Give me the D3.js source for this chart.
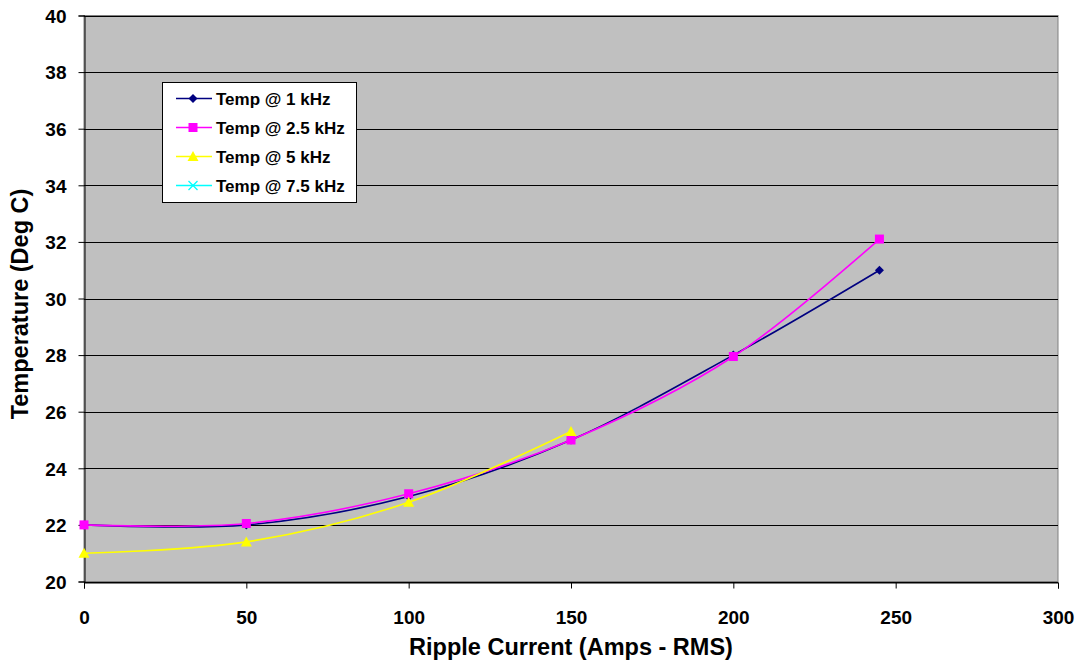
<!DOCTYPE html>
<html><head><meta charset="utf-8">
<script src="https://cdn.jsdelivr.net/npm/d3@7"></script>
<style>
html,body{margin:0;padding:0;background:#fff;}
svg{display:block;font-family:"Liberation Sans",Arial,sans-serif;}
</style></head>
<body><svg id="c" width="1079" height="667"></svg>
<script>
const xVals1k = [0, 50, 100, 150, 200, 245];
const temp1k = [22, 22, 23, 25, 28, 31];
const xVals2k5 = [0, 50, 100, 150, 200, 245];
const temp2k5 = [22, 22.05, 23.1, 25, 27.95, 32.1];
const xVals5k = [0, 50, 100, 150];
const temp5k = [21, 21.4, 22.8, 25.3];
const xVals7k5 = [];
const temp7k5 = [];
const seriesNames = ["Temp @ 1 kHz", "Temp @ 2.5 kHz", "Temp @ 5 kHz", "Temp @ 7.5 kHz"];
const xTicks = [0, 50, 100, 150, 200, 250, 300];
const yTicks = [20, 22, 24, 26, 28, 30, 32, 34, 36, 38, 40];

const series = [
  {name: seriesNames[0], xs: xVals1k, ys: temp1k, color: "#000080", sym: "diamond"},
  {name: seriesNames[1], xs: xVals2k5, ys: temp2k5, color: "#FF00FF", sym: "square"},
  {name: seriesNames[2], xs: xVals5k, ys: temp5k, color: "#FFFF00", sym: "triangle"},
  {name: seriesNames[3], xs: xVals7k5, ys: temp7k5, color: "#00FFFF", sym: "x"}
];

const svg = d3.select("#c");
const L = 84, R = 1058, T = 15.5, B = 581.5;
const x = d3.scaleLinear().domain([0, 300]).range([L, R]);
const y = d3.scaleLinear().domain([20, 40]).range([B, T]);

svg.append("rect").attr("x", L).attr("y", T).attr("width", R - L).attr("height", B - T)
  .attr("fill", "#C0C0C0").attr("stroke", "#808080").attr("stroke-width", 1);

// gridlines
svg.append("g").selectAll("line").data(yTicks).join("line")
  .attr("x1", L).attr("x2", R)
  .attr("y1", d => Math.round(y(d)) + 0.5).attr("y2", d => Math.round(y(d)) + 0.5)
  .attr("stroke", "#000").attr("stroke-width", 1);

// axes
const xAxis = d3.axisBottom(x).tickValues(xTicks).tickSize(6).tickPadding(22);
const yAxis = d3.axisLeft(y).tickValues(yTicks).tickSize(6).tickPadding(12);
const gx = svg.append("g").attr("transform", `translate(0,${Math.round(B)+0.5})`).call(xAxis);
const gy = svg.append("g").attr("transform", `translate(${L+0.5},0)`).call(yAxis);
[gx, gy].forEach(g => {
  g.select(".domain").attr("stroke", "#000");
  g.selectAll(".tick line").attr("stroke", "#000");
  g.selectAll("text").attr("font-size", 19).attr("font-weight", "bold")
    .attr("font-family", "Liberation Sans, Arial, sans-serif").attr("fill", "#000");
});
gy.selectAll(".tick text").attr("dy", "0.36em");

// titles
svg.append("text").attr("x", 571).attr("y", 655).attr("text-anchor", "middle")
  .attr("font-size", 23.5).attr("font-weight", "bold").text("Ripple Current (Amps - RMS)");
svg.append("text").attr("transform", `translate(28,304) rotate(-90)`)
  .attr("text-anchor", "middle").attr("font-size", 23.5).attr("font-weight", "bold")
  .text("Temperature (Deg C)");

const line = d3.line().x(d => x(d[0])).y(d => y(d[1])).curve(d3.curveCatmullRom.alpha(0));

function drawSym(g, sym, color, cx, cy) {
  if (sym === "diamond") {
    g.append("path").attr("d", `M${cx},${cy-4.5}L${cx+4.5},${cy}L${cx},${cy+4.5}L${cx-4.5},${cy}Z`).attr("fill", color);
  } else if (sym === "square") {
    g.append("rect").attr("x", cx - 4.5).attr("y", cy - 4.5).attr("width", 9).attr("height", 9).attr("fill", color);
  } else if (sym === "triangle") {
    g.append("path").attr("d", `M${cx},${cy-5.5}L${cx+5.5},${cy+4.5}L${cx-5.5},${cy+4.5}Z`).attr("fill", color);
  } else {
    g.append("path").attr("d", `M${cx-4.5},${cy-4.5}L${cx+4.5},${cy+4.5}M${cx-4.5},${cy+4.5}L${cx+4.5},${cy-4.5}`)
      .attr("stroke", color).attr("stroke-width", 1.3).attr("fill", "none");
  }
}

const plotG = svg.append("g");
series.forEach(s => {
  const pts = s.xs.map((v, i) => [v, s.ys[i]]);
  if (!pts.length) return;
  plotG.append("path").datum(pts).attr("d", line).attr("fill", "none")
    .attr("stroke", s.color).attr("stroke-width", 1.6);
});
series.forEach(s => {
  s.xs.forEach((v, i) => drawSym(plotG, s.sym, s.color, x(v), y(s.ys[i])));
});

// legend
const lg = svg.append("g");
lg.append("rect").attr("x", 162.5).attr("y", 82.5).attr("width", 194).attr("height", 120)
  .attr("fill", "#fff").attr("stroke", "#000").attr("stroke-width", 1);
series.forEach((s, i) => {
  const cy = 98.5 + i * 29;
  lg.append("line").attr("x1", 176).attr("x2", 212).attr("y1", cy).attr("y2", cy)
    .attr("stroke", s.color).attr("stroke-width", 1.6);
  drawSym(lg, s.sym, s.color, 193, cy);
  lg.append("text").attr("x", 216).attr("y", cy).attr("dy", "0.36em")
    .attr("font-size", 17).attr("font-weight", "bold").text(s.name);
});
</script></body></html>
